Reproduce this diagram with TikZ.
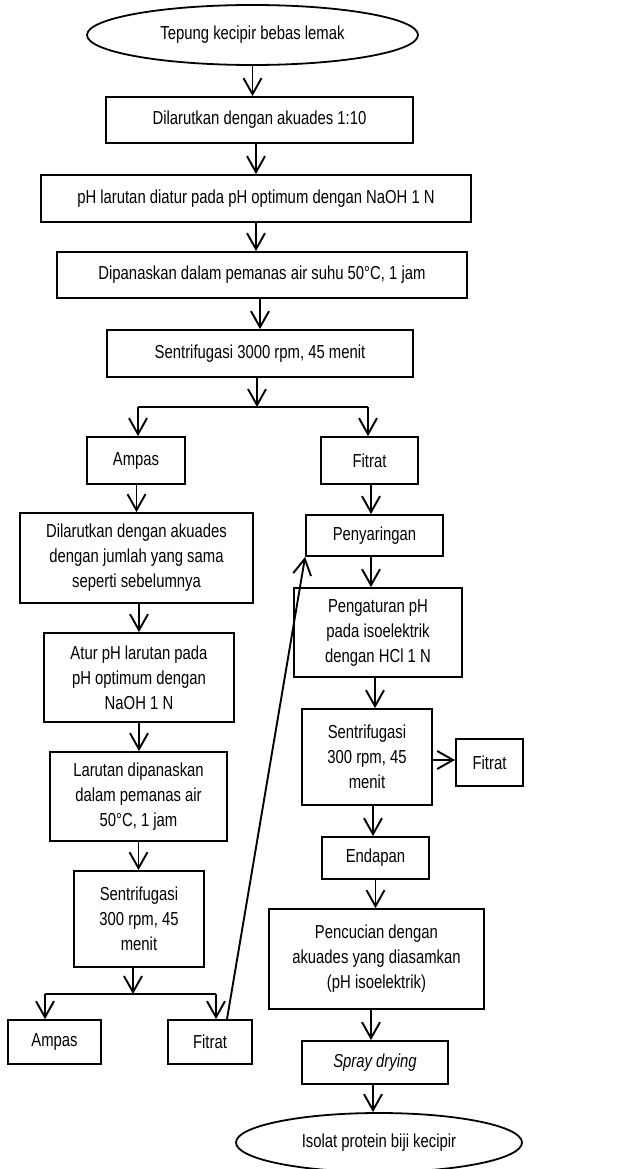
\documentclass[tikz,border=0pt]{standalone}
\usepackage{fontspec}
\setmainfont[FakeStretch=0.79]{Liberation Sans}
\usetikzlibrary{arrows.meta,shapes.geometric}
\begin{document}
\begin{tikzpicture}[x=1pt,y=-1pt,
  txt/.style={font=\fontsize{18.8}{25}\selectfont},
  box/.style={draw, line width=1.8pt, inner sep=0pt, align=center, txt},
  oval/.style={ellipse, draw, line width=1.8pt, inner sep=0pt, txt},
  arr/.style={line width=1.9pt, -{Straight Barb[length=16pt,width=18pt]}},
  ln/.style={line width=1.9pt}]
\fill[white] (0,0) rectangle (621,1169);
\useasboundingbox (0,0) rectangle (621,1169);
% main column
\node[oval, minimum width=331pt, minimum height=60pt] (top) at (252.5,35) {Tepung kecipir bebas lemak};
\node[box, minimum width=307pt, minimum height=46pt] (b1) at (259.5,120) {Dilarutkan dengan akuades 1:10};
\node[box, minimum width=430pt, minimum height=47pt] (b2) at (256,198.5) {pH larutan diatur pada pH optimum dengan NaOH 1 N};
\node[box, minimum width=410pt, minimum height=46pt] (b3) at (262,275) {Dipanaskan dalam pemanas air suhu 50°C, 1 jam};
\node[box, minimum width=306pt, minimum height=47pt] (b4) at (260,353.5) {Sentrifugasi 3000 rpm, 45 menit};
\coordinate (s1) at (257,407);
\node[box, minimum width=98pt, minimum height=47pt] (amp1) at (136,460.5) {Ampas};
\node[box, minimum width=97pt, minimum height=47pt] (fit1) at (369.5,460.5) {Fitrat};
% left column
\node[box, minimum width=233pt, minimum height=90pt] (L1) at (136.5,558) {Dilarutkan dengan akuades\\dengan jumlah yang sama\\seperti sebelumnya};
\node[box, minimum width=190pt, minimum height=89pt] (L2) at (139,677.5) {Atur pH larutan pada\\pH optimum dengan\\NaOH 1 N};
\node[box, minimum width=177pt, minimum height=89pt] (L3) at (138.5,796.5) {Larutan dipanaskan\\dalam pemanas air\\50°C, 1 jam};
\node[box, minimum width=130pt, minimum height=96pt] (L4) at (139,919) {Sentrifugasi\\300 rpm, 45\\menit};
\coordinate (s2) at (133,994);
\node[box, minimum width=93pt, minimum height=44pt] (amp2) at (54.5,1042) {Ampas};
\node[box, minimum width=84pt, minimum height=44pt] (fit3) at (210,1042) {Fitrat};
% right column
\node[box, minimum width=137pt, minimum height=41pt] (pen) at (374.5,535.5) {Penyaringan};
\node[box, minimum width=168pt, minimum height=89pt] (R2) at (378,632.5) {Pengaturan pH\\pada isoelektrik\\dengan HCl 1 N};
\node[box, minimum width=130pt, minimum height=96pt] (R3) at (367,757) {Sentrifugasi\\300 rpm, 45\\menit};
\node[box, minimum width=67pt, minimum height=47pt] (fit2) at (489.5,762.5) {Fitrat};
\node[box, minimum width=107pt, minimum height=42pt] (end) at (375.5,858) {Endapan};
\node[box, minimum width=215pt, minimum height=100pt] (R5) at (376.5,959) {Pencucian dengan\\akuades yang diasamkan\\(pH isoelektrik)};
\node[box, minimum width=146pt, minimum height=43pt] (spray) at (375,1062.5) {\textit{Spray drying}};
\node[oval, minimum width=286pt, minimum height=59pt] (bot) at (379,1142.5) {Isolat protein biji kecipir};
% connectors main
\draw[arr] (top.south) -- (top.south |- b1.north);
\draw[arr] (b2.north |- b1.south) -- (b2.north);
\draw[arr] (b2.south) -- (b2.south |- b3.north);
\draw[arr] (b4.north |- b3.south) -- (b4.north);
\draw[arr] (s1 |- b4.south) -- (s1);
\draw[ln] ([xshift=2pt]amp1.north |- s1) -- ([xshift=-1.5pt]fit1.north |- s1);
\draw[arr] ([xshift=2pt]amp1.north |- s1) -- ([xshift=2pt]amp1.north);
\draw[arr] ([xshift=-1.5pt]fit1.north |- s1) -- ([xshift=-1.5pt]fit1.north);
% left connectors
\draw[arr] (L1.north |- amp1.south) -- (L1.north);
\draw[arr] (L2.north |- L1.south) -- (L2.north);
\draw[arr] (L2.south) -- (L2.south |- L3.north);
\draw[arr] (L3.south) -- (L3.south |- L4.north);
\draw[arr] (s2 |- L4.south) -- (s2);
\draw[ln] ([xshift=-9.5pt]amp2.north |- s2) -- ([xshift=6pt]fit3.north |- s2);
\draw[arr] ([xshift=-9.5pt]amp2.north |- s2) -- ([xshift=-9.5pt]amp2.north);
\draw[arr] ([xshift=6pt]fit3.north |- s2) -- ([xshift=6pt]fit3.north);
\draw[arr] ([xshift=17pt]fit3.north) -- (pen.south west);
% right connectors
\draw[arr] ([xshift=1.5pt]fit1.south) -- ([xshift=-3.5pt]pen.north);
\draw[arr] ([xshift=-3.5pt]pen.south) -- ([xshift=-3.5pt]pen.south |- R2.north);
\draw[arr] ([xshift=-3pt]R2.south) -- ([xshift=-3pt]R2.south |- R3.north);
\draw[arr] ([xshift=6pt]R3.south) -- ([xshift=6pt]R3.south |- end.north);
\draw[arr] (R3.east |- 0,760) -- (fit2.west |- 0,760);
\draw[arr] (end.south) -- (end.south |- R5.north);
\draw[arr] ([xshift=-5.5pt]R5.south) -- ([xshift=-5.5pt]R5.south |- spray.north);
\draw[arr] ([xshift=-2pt]spray.south) -- ([xshift=-2pt]spray.south |- bot.north);
\end{tikzpicture}
\end{document}
